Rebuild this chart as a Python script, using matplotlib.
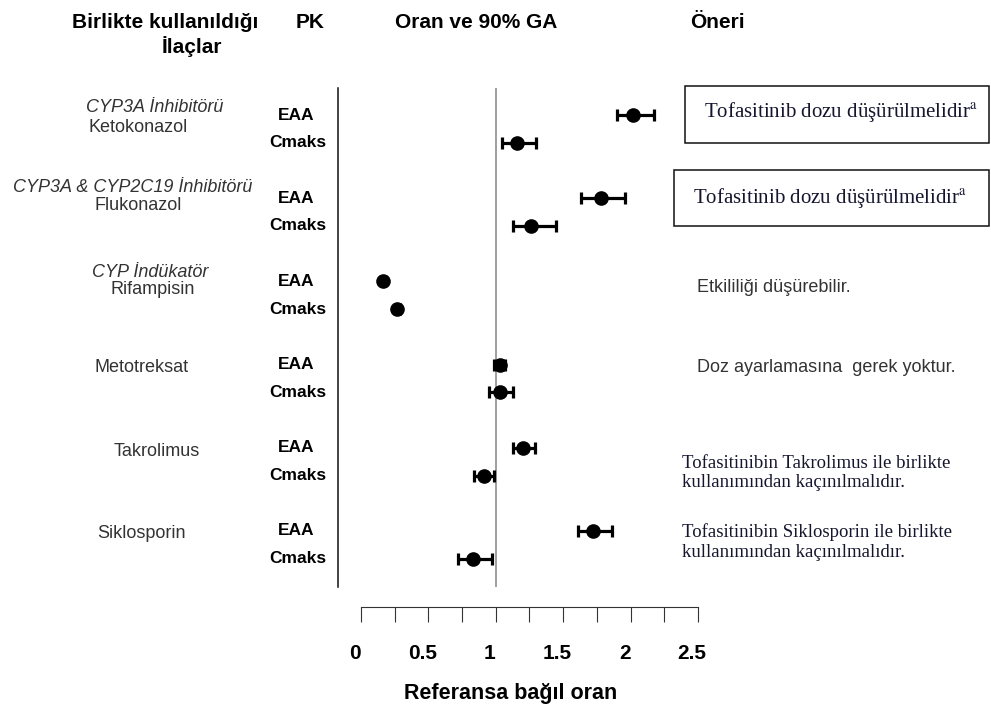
import numpy as np
import matplotlib
matplotlib.use("Agg")
import matplotlib.pyplot as plt
from matplotlib.patches import Rectangle
from matplotlib.transforms import ScaledTranslation, blended_transform_factory

plt.rcParams['font.family'] = ['Liberation Sans', 'DejaVu Sans']
plt.rcParams['mathtext.fontset'] = 'stix'

# ------------------------------------------------------------
# data: ratio and 90% CI (EAA / Cmaks for each drug)
# ------------------------------------------------------------
drugs = ['Ketokonazol', 'Flukonazol', 'Rifampisin', 'Metotreksat', 'Takrolimus', 'Siklosporin']
drug_class = ['CYP3A İnhibitörü', 'CYP3A & CYP2C19 İnhibitörü', 'CYP İndükatör', '', '', '']
pk_labels = ['EAA', 'Cmaks']

eaa_ratio = [2.02, 1.78, 0.165, 1.03, 1.20, 1.72]
eaa_low = [1.90, 1.63, 0.15, 0.99, 1.13, 1.61]
eaa_high = [2.17, 1.96, 0.18, 1.07, 1.29, 1.86]

cmax_ratio = [1.16, 1.26, 0.27, 1.03, 0.91, 0.83]
cmax_low = [1.05, 1.13, 0.25, 0.95, 0.84, 0.72]
cmax_high = [1.30, 1.45, 0.29, 1.13, 0.99, 0.97]

xticks = [0, 0.5, 1, 1.5, 2, 2.5]
xticks_minor = [0.25, 0.75, 1.25, 1.75, 2.25]

W, H = 991, 709


def fx(x):
    return x / W


def fy(y):
    return 1 - y / H


fig = plt.figure(figsize=(W / 100, H / 100), dpi=100)
ax = fig.add_axes([fx(338), fy(587), (698 - 338) / W, (587 - 88) / H])

# rows: EAA at 3*i, Cmaks at 3*i + 1
eaa_y = np.arange(len(drugs)) * 3
cmax_y = eaa_y + 1

eaa_ratio = np.array(eaa_ratio)
cmax_ratio = np.array(cmax_ratio)
eaa_err = [eaa_ratio - np.array(eaa_low), np.array(eaa_high) - eaa_ratio]
cmax_err = [cmax_ratio - np.array(cmax_low), np.array(cmax_high) - cmax_ratio]

ax.axvline(1.0, color='#8f8f8f', linewidth=1.2, zorder=1)

style = dict(fmt='o', color='black', markersize=9.5, elinewidth=2.3,
             capsize=4.3, capthick=2.3, zorder=3)
ax.errorbar(eaa_ratio, eaa_y, xerr=eaa_err, **style)
ax.errorbar(cmax_ratio, cmax_y, xerr=cmax_err, **style)

ax.set_xlim(-0.17, 2.5)
ax.set_ylim(17.02, -0.974)

ax.spines['top'].set_visible(False)
ax.spines['right'].set_visible(False)
ax.spines['left'].set_linewidth(1.1)
ax.spines['left'].set_color('#111111')
ax.spines['bottom'].set_position(('outward', 14.4))
ax.spines['bottom'].set_bounds(0, 2.5)
ax.spines['bottom'].set_linewidth(0.8)
ax.spines['bottom'].set_color('#333333')
ax.set_yticks([])

ax.set_xticks(xticks)
ax.set_xticklabels([f'{t:g}' for t in xticks], fontsize=15, fontweight='bold')
ax.set_xticks(xticks_minor, minor=True)
ax.tick_params(axis='x', which='both', direction='out', length=10.8,
               width=0.8, color='#333333', pad=16)
shift = ScaledTranslation(-6 / 100, 0, fig.dpi_scale_trans)
for lab in ax.get_xticklabels():
    lab.set_transform(lab.get_transform() + shift)

fig.text(fx(511), fy(693), 'Referansa bağıl oran', fontsize=15.5,
         fontweight='bold', ha='center', va='center')

# PK labels next to each row
row_tr = blended_transform_factory(fig.transFigure, ax.transData)
for y in eaa_y:
    ax.text(fx(296), y, pk_labels[0], transform=row_tr, fontsize=12.5,
            fontweight='bold', ha='center', va='center')
for y in cmax_y:
    ax.text(fx(298), y, pk_labels[1], transform=row_tr, fontsize=12.5,
            fontweight='bold', ha='center', va='center')

# headers (baseline positions)
hdr = dict(fontsize=15, fontweight='bold', ha='center', va='baseline')
fig.text(fx(165), fy(28), 'Birlikte kullanıldığı', **hdr)
fig.text(fx(192), fy(53), 'İlaçlar', **hdr)
fig.text(fx(310), fy(28), 'PK', **hdr)
fig.text(fx(476), fy(28), 'Oran ve 90% GA', **hdr)
fig.text(fx(717), fy(28), 'Öneri', **hdr)

# drug names and classes (left edge x, center y in pixels)
name_pos = [(89, 127), (94, 205), (111, 289), (94, 367), (114, 452), (97, 533)]
class_pos = [(86, 108), (13, 187), (92, 272)]
gray = '#333333'
for name, (x, y) in zip(drugs, name_pos):
    fig.text(fx(x), fy(y), name, fontsize=13, color=gray, ha='left', va='center')
for cls, (x, y) in zip(drug_class, class_pos):
    fig.text(fx(x), fy(y), cls, fontsize=13, color=gray, style='italic',
             ha='left', va='center')

# recommendations
serif = ['Liberation Serif', 'DejaVu Serif']
navy = '#15152e'
boxes = [(685, 86, 989, 143), (674, 170, 989, 226)]
for (x0, y0, x1, y1) in boxes:
    fig.patches.append(Rectangle((fx(x0), fy(y1)), (x1 - x0) / W, (y1 - y0) / H,
                                 transform=fig.transFigure, fill=False,
                                 edgecolor='#111111', linewidth=1.1))
fig.text(fx(704), fy(112), r'Tofasitinib dozu düşürülmelidir$^{\mathrm{a}}$',
         family=serif, fontsize=15, color=navy, ha='left', va='center')
fig.text(fx(693), fy(198), r'Tofasitinib dozu düşürülmelidir$^{\mathrm{a}}$',
         family=serif, fontsize=15, color=navy, ha='left', va='center')
fig.text(fx(697), fy(287), 'Etkililiği düşürebilir.', fontsize=13,
         color=gray, ha='left', va='center')
fig.text(fx(697), fy(367), 'Doz ayarlamasına  gerek yoktur.', fontsize=13,
         color=gray, ha='left', va='center')
fig.text(fx(682), fy(473), 'Tofasitinibin Takrolimus ile birlikte\nkullanımından kaçınılmalıdır.',
         family=serif, fontsize=13.5, color=navy, ha='left', va='center',
         linespacing=1.2)
fig.text(fx(682), fy(542), 'Tofasitinibin Siklosporin ile birlikte\nkullanımından kaçınılmalıdır.',
         family=serif, fontsize=13.5, color=navy, ha='left', va='center',
         linespacing=1.2)

fig.savefig('out.png', dpi=100)
